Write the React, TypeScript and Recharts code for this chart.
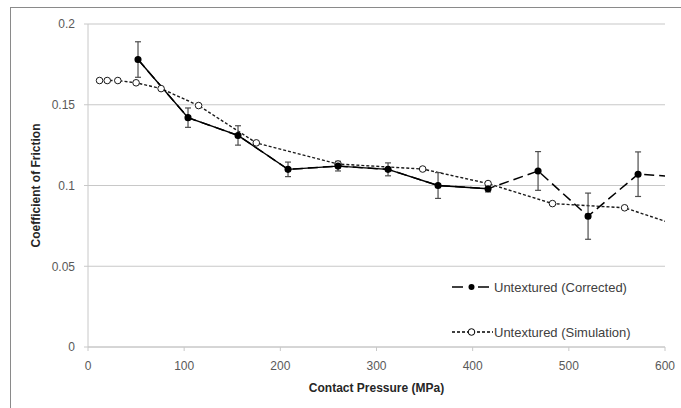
import React from 'react';
import { LineChart, Line, XAxis, YAxis, CartesianGrid, ErrorBar, Legend } from 'recharts';

// Untextured (Corrected) - measured points, last one sits beyond the axis and is clipped
const correctedX = [52, 104, 156, 208, 260, 312, 364, 416, 468, 520, 572, 624];
const correctedY = [0.178, 0.142, 0.131, 0.110, 0.112, 0.110, 0.100, 0.098, 0.109, 0.081, 0.107, 0.105];
const correctedErr = [0.011, 0.006, 0.006, 0.0045, 0.003, 0.004, 0.008, 0.002, 0.012, 0.0143, 0.0138, 0];

// Untextured (Simulation)
const simulationX = [12, 20, 31, 50, 76, 115, 175, 260, 348, 416, 483, 558, 650];
const simulationY = [0.165, 0.165, 0.165, 0.1636, 0.160, 0.1495, 0.1264, 0.1133, 0.1102, 0.1012, 0.0888, 0.0862, 0.068];

const xTicks = [0, 100, 200, 300, 400, 500, 600];
const yTicks = [0, 0.05, 0.1, 0.15, 0.2];

const corrected = correctedX.map((x, i) => ({ x, y: correctedY[i], err: correctedErr[i] }));
const simulation = simulationX.map((x, i) => ({ x, y: simulationY[i] }));
// the experimental part of the curve is drawn solid in the original
const correctedSolid = corrected.slice(0, 8);

const FONT = '"Liberation Sans", Arial, sans-serif';
const GRID = '#c8c8c8';
const TEXT = '#595959';

function LegendBox() {
  const row: React.CSSProperties = {
    display: 'flex',
    alignItems: 'center',
    height: 16,
    fontFamily: FONT,
    fontSize: 13,
    color: '#404040',
    whiteSpace: 'nowrap',
  };
  return (
    <div>
      <div style={row}>
        <svg width={41} height={10} style={{ marginRight: 1 }}>
          <line x1={0} y1={5} x2={11} y2={5} stroke="#000" strokeWidth={1.5} />
          <circle cx={19.5} cy={5} r={3} fill="#000" />
          <line x1={26} y1={5} x2={37} y2={5} stroke="#000" strokeWidth={1.5} />
        </svg>
        <span>Untextured (Corrected)</span>
      </div>
      <div style={{ ...row, marginTop: 29 }}>
        <svg width={41} height={10} style={{ marginRight: 1 }}>
          <line x1={0} y1={5} x2={41} y2={5} stroke="#000" strokeWidth={1.3} strokeDasharray="3 2" />
          <circle cx={19.5} cy={5} r={3.3} fill="#fff" stroke="#000" strokeWidth={1} />
        </svg>
        <span>Untextured (Simulation)</span>
      </div>
    </div>
  );
}

export default function App() {
  return (
    <div style={{ position: 'absolute', left: 0, top: 0, width: 681, height: 408, background: '#fff' }}>
      <div
        style={{
          position: 'absolute',
          left: 10,
          top: 7,
          width: 671,
          height: 401,
          borderTop: '1.5px solid #8a8a8a',
          borderLeft: '1.5px solid #8a8a8a',
        }}
      />
      <LineChart
        width={681}
        height={408}
        margin={{ top: 24, right: 16, left: 0, bottom: 0 }}
        style={{ position: 'absolute', left: 0, top: 0 }}
      >
        <CartesianGrid vertical={false} stroke={GRID} strokeWidth={1.2} />
        <XAxis
          dataKey="x"
          type="number"
          domain={[0, 600]}
          ticks={xTicks}
          allowDataOverflow
          height={61}
          stroke={GRID}
          tickSize={4}
          tickMargin={10}
          tick={{ fill: TEXT, fontSize: 12, fontFamily: FONT }}
          label={{
            value: 'Contact Pressure (MPa)',
            position: 'insideBottom',
            offset: 16,
            style: { fontFamily: FONT, fontSize: 12, fontWeight: 'bold', fill: '#262626' },
          }}
        />
        <YAxis
          type="number"
          domain={[0, 0.2]}
          ticks={yTicks}
          width={88}
          stroke={GRID}
          tickSize={4}
          tickMargin={9}
          tick={{ fill: TEXT, fontSize: 12, fontFamily: FONT }}
          label={{
            value: 'Coefficient of Friction',
            angle: -90,
            position: 'insideLeft',
            offset: 36,
            style: { textAnchor: 'middle', fontFamily: FONT, fontSize: 12, fontWeight: 'bold', fill: '#262626' },
          }}
        />
        <Legend
          layout="vertical"
          align="center"
          verticalAlign="middle"
          content={() => <LegendBox />}
          wrapperStyle={{ position: 'absolute', left: 452, top: 279, width: 210 }}
        />
        <Line
          data={simulation}
          dataKey="y"
          stroke="#1a1a1a"
          strokeWidth={1.4}
          strokeDasharray="3 2"
          dot={{ r: 3.3, fill: '#fff', stroke: '#1a1a1a', strokeWidth: 1, strokeDasharray: '' }}
          isAnimationActive={false}
        />
        <Line
          data={correctedSolid}
          dataKey="y"
          stroke="#000"
          strokeWidth={1.4}
          dot={false}
          legendType="none"
          isAnimationActive={false}
        />
        <Line
          data={corrected}
          dataKey="y"
          stroke="#000"
          strokeWidth={1.5}
          strokeDasharray="10 5"
          dot={{ r: 2.8, fill: '#000', stroke: '#000', strokeDasharray: '' }}
          isAnimationActive={false}
        >
          <ErrorBar dataKey="err" direction="y" width={3} stroke="#4d4d4d" strokeWidth={1.2} />
        </Line>
      </LineChart>
    </div>
  );
}
